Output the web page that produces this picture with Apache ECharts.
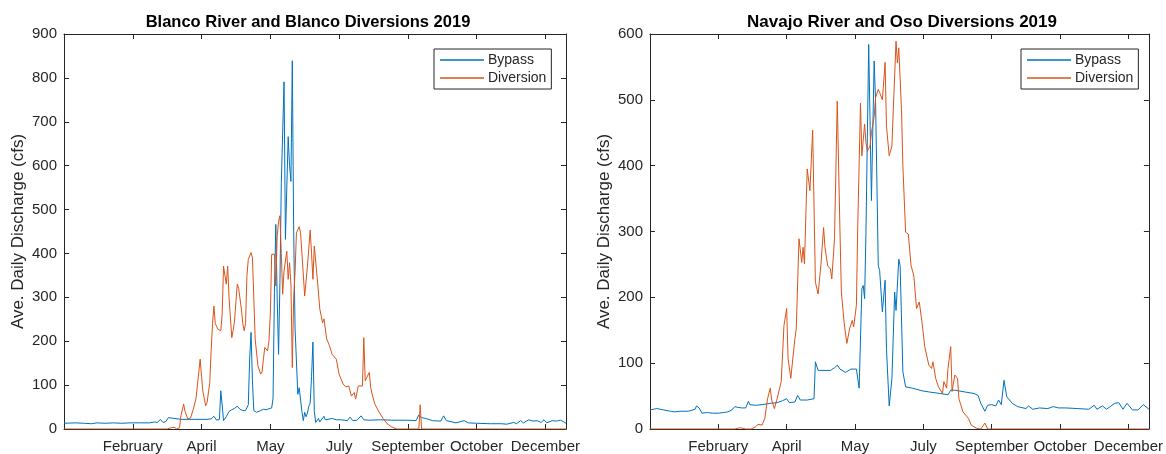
<!DOCTYPE html>
<html>
<head>
<meta charset="utf-8">
<script src="https://cdn.jsdelivr.net/npm/echarts@6/dist/echarts.min.js"></script>
<style>
  html, body { margin: 0; padding: 0; background: #ffffff; }
  #chart { width: 1166px; height: 454px; }
</style>
</head>
<body>
<div id="chart"></div>
<script>
// Day-of-year ticks and their month labels
const tickDays = [50, 100, 150, 200, 250, 300, 350];
const tickLabels = ['February', 'April', 'May', 'July', 'September', 'October', 'December'];

const panelTitles = ['Blanco River and Blanco Diversions 2019', 'Navajo River and Oso Diversions 2019'];
const seriesNames = ['Bypass', 'Diversion'];
const yLabel = 'Ave. Daily Discharge (cfs)';

// Blanco River — bypass flow [day of year, cfs]
const blancoBypass = [[0,13],[8,14],[15,13],[20,12],[24,14],[30,13],[36,14],[42,13],[48,14],[55,14],[62,14],[66,16],[68,15],[70,22],[72,15],[74,17],[76,26],[77,22],[85,22],[95,22],[104,22],[107,23],[109,29],[111,20],[113,22],[114,87],[115,55],[116,19],[118,28],[120,40],[122,44],[124,47],[126,52],[128,45],[130,42],[132,42],[134,55],[135,160],[136,220],[137,110],[138,42],[140,38],[143,42],[145,45],[147,44],[149,46],[151,48],[152,70],[153,311],[154,466],[155,300],[156,170],[157,334],[158,560],[160,791],[161,432],[163,666],[164,600],[165,564],[166,839],[167,450],[168,230],[170,79],[171,94],[172,94],[173,40],[174,19],[175,38],[176,28],[177,36],[178,52],[179,59],[180,120],[181,198],[182,40],[183,15],[184,18],[185,24],[186,16],[187,17],[189,29],[190,21],[192,22],[195,24],[198,21],[201,21],[204,20],[206,19],[208,27],[210,19],[213,20],[216,30],[218,21],[222,20],[230,21],[240,20],[250,20],[256,19],[258,32],[260,26],[263,24],[268,19],[274,18],[276,30],[278,19],[285,14],[291,19],[294,14],[300,13],[310,12],[318,12],[322,11],[327,15],[329,12],[332,19],[334,14],[338,21],[341,18],[344,19],[347,15],[349,21],[351,14],[355,19],[358,18],[361,20],[363,17],[365,13]];

// Blanco River — diverted flow [day of year, cfs]
const blancoDiversion = [[0,0],[75,0],[78,3],[80,4],[82,0],[84,3],[85,30],[87,57],[88,40],[90,23],[92,25],[94,45],[96,70],[97,100],[99,159],[100,120],[101,85],[103,53],[104,60],[106,106],[107,180],[108,240],[109,280],[110,240],[112,227],[114,224],[115,260],[116,371],[117,350],[118,330],[119,371],[120,300],[122,208],[123,225],[124,246],[125,290],[126,330],[127,320],[129,273],[130,240],[131,224],[132,240],[133,349],[134,386],[136,402],[137,390],[138,300],[139,205],[141,144],[143,125],[144,130],[145,160],[146,186],[147,190],[148,178],[149,200],[150,260],[151,398],[153,398],[154,326],[155,440],[156,473],[157,486],[158,400],[159,307],[160,360],[162,405],[163,341],[164,379],[165,330],[166,140],[167,300],[168,356],[169,447],[171,461],[172,447],[173,400],[175,303],[177,371],[179,453],[180,400],[181,341],[182,417],[184,348],[186,273],[187,258],[188,242],[189,251],[191,205],[193,190],[195,170],[196,167],[198,159],[200,125],[203,102],[205,96],[207,98],[209,75],[211,83],[212,68],[213,64],[214,98],[217,98],[218,208],[219,110],[220,106],[222,129],[223,95],[224,80],[226,57],[229,39],[232,24],[235,12],[238,5],[242,0],[258,0],[259,55],[260,0],[365,0]];

// Navajo River — bypass flow [day of year, cfs]
const navajoBypass = [[0,29],[5,31],[10,29],[15,27],[18,26],[22,27],[28,27],[33,30],[34,35],[36,32],[38,24],[42,25],[46,24],[50,24],[54,25],[57,26],[60,29],[62,34],[64,33],[67,32],[70,32],[72,42],[73,37],[74,34],[77,36],[82,37],[88,39],[93,40],[97,43],[100,46],[102,40],[106,41],[108,51],[110,44],[115,44],[120,46],[121,102],[123,89],[128,89],[132,89],[135,93],[137,97],[139,91],[143,86],[147,91],[151,91],[153,62],[155,213],[156,218],[157,198],[158,299],[160,584],[162,347],[164,559],[165,500],[167,248],[168,241],[170,178],[172,226],[173,122],[175,35],[177,77],[179,208],[180,180],[182,258],[183,248],[185,87],[187,64],[192,62],[199,58],[205,56],[212,54],[218,52],[220,59],[223,59],[231,56],[237,54],[240,51],[242,39],[245,27],[247,36],[250,37],[253,35],[255,44],[257,37],[259,74],[261,49],[265,39],[269,34],[275,31],[277,35],[280,30],[285,32],[291,31],[295,34],[299,32],[304,32],[313,31],[321,30],[325,36],[327,30],[331,35],[334,30],[340,39],[343,40],[346,30],[349,39],[353,29],[357,29],[361,37],[365,30]];

// Navajo River — diverted flow to Oso [day of year, cfs]
const navajoDiversion = [[0,0],[62,0],[66,2],[70,0],[74,0],[77,3],[79,7],[82,6],[84,16],[86,46],[88,62],[89,44],[91,31],[93,46],[96,72],[98,157],[100,183],[101,107],[103,77],[104,74],[106,137],[107,152],[109,289],[111,253],[112,276],[113,251],[115,395],[117,362],[118,359],[119,454],[121,223],[123,205],[125,248],[127,306],[128,276],[130,248],[132,243],[133,228],[135,289],[137,498],[139,299],[140,208],[142,162],[144,130],[146,152],[148,165],[149,155],[151,188],[152,309],[154,495],[155,415],[157,463],[158,435],[159,422],[161,430],[162,450],[164,475],[165,503],[167,516],[168,511],[170,500],[172,557],[173,460],[175,415],[177,430],[178,485],[180,589],[181,556],[182,579],[184,485],[185,400],[187,299],[189,296],[191,248],[193,233],[195,183],[196,180],[197,193],[199,162],[201,125],[204,97],[206,92],[207,102],[209,77],[211,64],[214,54],[215,72],[217,62],[218,92],[220,125],[221,57],[223,82],[225,77],[226,46],[229,26],[233,16],[235,6],[239,1],[242,0],[245,9],[247,0],[365,0]];

const yMax = [900, 600];

const FONT = '"Liberation Sans", Arial, Helvetica, sans-serif';
const INK = '#262626';
const BLUE = '#0072BD';
const ORANGE = '#D95319';

const grids = [
  { left: 64, right: 600, top: 34, height: 396 },
  { left: 650, right: 12, top: 34, height: 396 }
];

const xAxes = [];
const yAxes = [];
grids.forEach((g, i) => {
  // bottom axis with month labels
  xAxes.push({
    type: 'value', gridIndex: i, min: 0, max: 365, position: 'bottom',
    axisLine: { show: true, onZero: false, lineStyle: { color: INK, width: 1 } },
    axisTick: { show: true, inside: true, length: 5, customValues: tickDays, lineStyle: { color: INK } },
    axisLabel: {
      show: true, customValues: tickDays, margin: 10, color: INK, fontSize: 15, fontFamily: FONT,
      formatter: v => tickLabels[tickDays.indexOf(v)] || ''
    },
    splitLine: { show: false }
  });
  // top frame edge
  xAxes.push({
    type: 'value', gridIndex: i, min: 0, max: 365, position: 'top',
    axisLine: { show: true, onZero: false, lineStyle: { color: INK, width: 1 } },
    axisTick: { show: true, inside: true, length: 5, customValues: tickDays, lineStyle: { color: INK } },
    axisLabel: { show: false },
    splitLine: { show: false }
  });
  yAxes.push({
    type: 'value', gridIndex: i, min: 0, max: yMax[i], interval: 100, position: 'left',
    name: yLabel, nameLocation: 'middle', nameRotate: 90, nameGap: 37,
    nameTextStyle: { color: INK, fontSize: 17, fontFamily: FONT },
    axisLine: { show: true, onZero: false, lineStyle: { color: INK, width: 1 } },
    axisTick: { show: true, inside: true, length: 5, lineStyle: { color: INK } },
    axisLabel: { show: true, margin: 7, color: INK, fontSize: 15, fontFamily: FONT },
    splitLine: { show: false }
  });
  // right frame edge
  yAxes.push({
    type: 'value', gridIndex: i, min: 0, max: yMax[i], interval: 100, position: 'right',
    axisLine: { show: true, onZero: false, lineStyle: { color: INK, width: 1 } },
    axisTick: { show: true, inside: true, length: 5, lineStyle: { color: INK } },
    axisLabel: { show: false },
    splitLine: { show: false }
  });
});

function lineSeries(name, data, color, panel) {
  return {
    name: name, type: 'line', data: data,
    xAxisIndex: panel * 2, yAxisIndex: panel * 2,
    symbol: 'none', smooth: false, animation: false,
    lineStyle: { color: color, width: 1 },
    itemStyle: { color: color }
  };
}

const legendBase = {
  data: seriesNames, orient: 'vertical', top: 49,
  icon: 'rect', itemWidth: 44, itemHeight: 1.5, itemGap: 4,
  padding: [4, 5, 4, 6],
  borderColor: INK, borderWidth: 1, backgroundColor: '#ffffff',
  textStyle: { color: INK, fontSize: 14, fontFamily: FONT, padding: [0, 0, 0, -1] }
};

const option = {
  backgroundColor: '#ffffff',
  animation: false,
  title: panelTitles.map((t, i) => ({
    text: t, left: i === 0 ? 308 : 902, top: 14, textAlign: 'center', padding: 0,
    textStyle: { color: '#000000', fontSize: i === 0 ? 16.5 : 17, fontWeight: 'bold', fontFamily: FONT }
  })),
  legend: [
    Object.assign({}, legendBase, { left: 434 }),
    Object.assign({}, legendBase, { left: 1021 })
  ],
  grid: grids,
  xAxis: xAxes,
  yAxis: yAxes,
  series: [
    lineSeries(seriesNames[0], blancoBypass, BLUE, 0),
    lineSeries(seriesNames[1], blancoDiversion, ORANGE, 0),
    lineSeries(seriesNames[0], navajoBypass, BLUE, 1),
    lineSeries(seriesNames[1], navajoDiversion, ORANGE, 1)
  ]
};

const chart = echarts.init(document.getElementById('chart'), null, { renderer: 'canvas' });
chart.setOption(option);
</script>
</body>
</html>
